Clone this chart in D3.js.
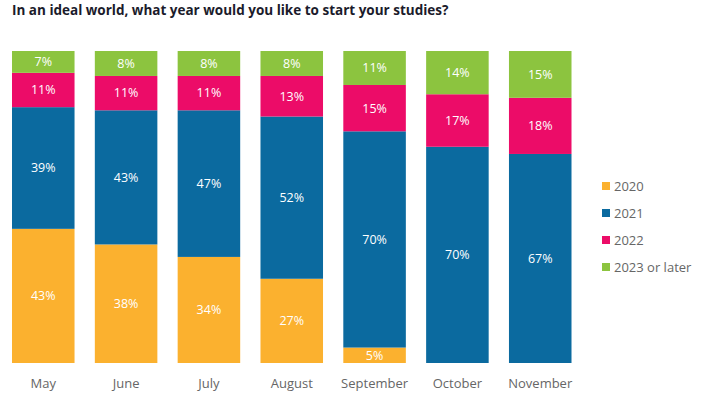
<!DOCTYPE html>
<html>
<head>
<meta charset="utf-8">
<script src="https://cdn.jsdelivr.net/npm/d3@7"></script>
<style>
  body { margin: 0; background: #fff; }
  svg text { font-family: "Open Sans", sans-serif; }
</style>
</head>
<body>
<svg id="chart" width="710" height="399"></svg>
<script>
const months = ["May", "June", "July", "August", "September", "October", "November"];
const series = ["2020", "2021", "2022", "2023 or later"];
const y2020 = [43, 38, 34, 27, 5, 0, 0];
const y2021 = [39, 43, 47, 52, 70, 70, 67];
const y2022 = [11, 11, 11, 13, 15, 17, 18];
const y2023 = [7, 8, 8, 8, 11, 14, 15];
const colors = ["#fbb12f", "#0b6a9f", "#ec0c68", "#8cc43f"];

const data = months.map((m, i) => ({
  month: m,
  "2020": y2020[i],
  "2021": y2021[i],
  "2022": y2022[i],
  "2023 or later": y2023[i]
}));

const svg = d3.select("#chart");
const plotTop = 51, plotBottom = 363;

svg.append("text")
  .attr("x", 12)
  .attr("y", 15)
  .attr("font-size", 13.5)
  .attr("font-weight", "bold")
  .attr("fill", "#1b1b2b")
  .text("In an ideal world, what year would you like to start your studies?");

const x = d3.scaleBand()
  .domain(months)
  .range([12, 571.5])
  .paddingInner(0.245)
  .paddingOuter(0);

const y = d3.scaleLinear()
  .domain([0, 1])
  .range([plotBottom, plotTop]);

// bars are normalised to 100% (some months add up to 101)
const stack = d3.stack().keys(series).offset(d3.stackOffsetExpand);
const layers = stack(data);

const color = d3.scaleOrdinal().domain(series).range(colors);

const g = svg.selectAll("g.layer")
  .data(layers)
  .enter()
  .append("g")
  .attr("class", "layer")
  .attr("fill", d => color(d.key));

g.selectAll("rect")
  .data(d => d.filter(s => s[1] > s[0]))
  .enter()
  .append("rect")
  .attr("x", d => x(d.data.month))
  .attr("y", d => y(d[1]))
  .attr("width", x.bandwidth())
  .attr("height", d => y(d[0]) - y(d[1]));

// value labels
layers.forEach(layer => {
  svg.append("g").selectAll("text")
    .data(layer.filter(s => s[1] > s[0]))
    .enter()
    .append("text")
    .attr("x", d => x(d.data.month) + x.bandwidth() / 2)
    .attr("y", d => (y(d[0]) + y(d[1])) / 2)
    .attr("dy", "0.35em")
    .attr("text-anchor", "middle")
    .attr("font-size", 12.5)
    .attr("fill", "#fff")
    .text(d => d.data[layer.key] + "%");
});

// x axis
const xAxis = svg.append("g")
  .attr("transform", "translate(0," + plotBottom + ")")
  .call(d3.axisBottom(x).tickSize(0).tickPadding(16));
xAxis.select(".domain").remove();
xAxis.selectAll("text")
  .attr("font-size", 13)
  .attr("fill", "#666");

// legend
const legend = svg.append("g")
  .attr("transform", "translate(602,186)");
const items = legend.selectAll("g")
  .data(series)
  .enter()
  .append("g")
  .attr("transform", (d, i) => "translate(0," + i * 27 + ")");
items.append("rect")
  .attr("x", 0)
  .attr("y", -4)
  .attr("width", 8)
  .attr("height", 8)
  .attr("fill", d => color(d));
items.append("text")
  .attr("x", 12)
  .attr("dy", "0.35em")
  .attr("font-size", 13)
  .attr("fill", "#666")
  .text(d => d);
</script>
</body>
</html>
